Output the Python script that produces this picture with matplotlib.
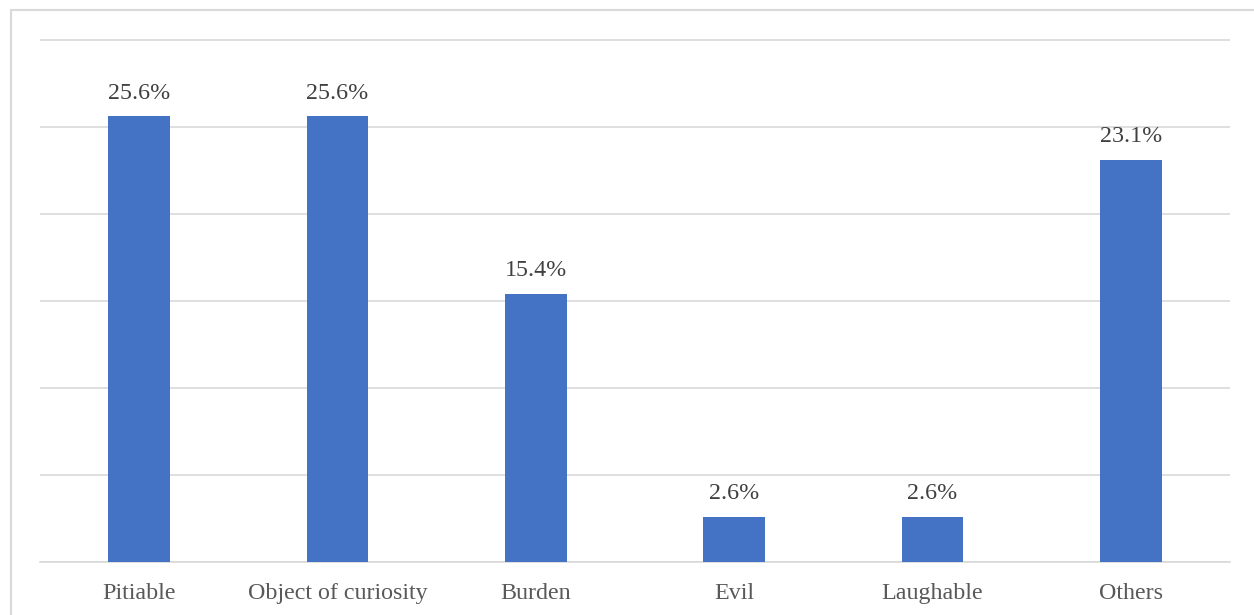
import matplotlib
matplotlib.use("Agg")
import matplotlib.pyplot as plt
from matplotlib.patches import Rectangle

categories = ["Pitiable", "Object of curiosity", "Burden", "Evil", "Laughable", "Others"]
values = [25.6, 25.6, 15.4, 2.6, 2.6, 23.1]

plt.rcParams['font.family'] = ['Liberation Serif', 'DejaVu Serif']

fig = plt.figure(figsize=(12.54, 6.15), dpi=100)
W, H = 1254, 615
ax = fig.add_axes([40 / W, 53 / H, 1190 / W, (562 - 39) / H])

x = list(range(len(categories)))
bars = ax.bar(x, values, width=0.31, color="#4472C4", zorder=3)
ax.set_xlim(-0.5, len(categories) - 0.5)
ax.set_ylim(0, 30.05)
ax.set_yticks([0, 5, 10, 15, 20, 25, 30])
ax.yaxis.grid(True, color="#d9d9d9", linewidth=1.2, zorder=0)
ax.tick_params(axis='y', left=False, labelleft=False)
ax.tick_params(axis='x', length=0, pad=15, labelsize=17.3, labelcolor="#595959")
ax.set_xticks(x)
ax.set_xticklabels(categories)
for s in ["top", "right", "left"]:
    ax.spines[s].set_visible(False)
ax.spines["bottom"].set_color("#d9d9d9")
ax.spines["bottom"].set_linewidth(1.2)

for xi, v in zip(x, values):
    ax.annotate(f"{v:.1f}%", (xi, v), xytext=(0, 9), textcoords="offset points",
                ha="center", va="bottom", fontsize=17.3, color="#404040")

fig.patches.append(Rectangle((11 / W, -0.1), 1.2, (615 - 10) / H + 0.1,
                             transform=fig.transFigure, fill=False,
                             edgecolor="#d9d9d9", linewidth=1.5, zorder=0))

fig.savefig("out.png", dpi=100)
